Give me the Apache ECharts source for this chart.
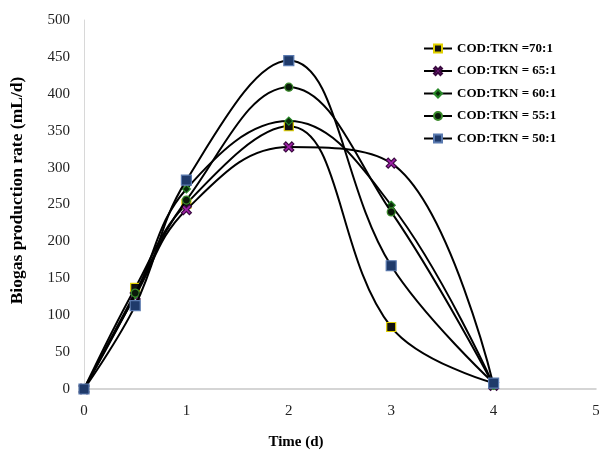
<!DOCTYPE html>
<html>
<head>
<meta charset="utf-8">
<script src="https://cdn.jsdelivr.net/npm/echarts@6/dist/echarts.min.js"></script>
<style>
html, body { margin: 0; padding: 0; background: #fff; }
#chart { width: 599px; height: 450px; }
</style>
</head>
<body>
<div id="chart"></div>
<script>
var times = [0, 0.5, 1, 2, 3, 4];
var seriesNames = ['COD:TKN =70:1', 'COD:TKN = 65:1', 'COD:TKN = 60:1', 'COD:TKN = 55:1', 'COD:TKN = 50:1'];
var cod70 = [0, 137, 251, 356, 84, 8];
var cod65 = [0, 126, 243, 328, 306, 5];
var cod60 = [0, 128, 271, 363, 249, 5];
var cod55 = [0, 130, 256, 409, 240, 5];
var cod50 = [0, 113, 283, 445, 167, 8];
var yTicks = [0, 50, 100, 150, 200, 250, 300, 350, 400, 450, 500];
var xTicks = [0, 1, 2, 3, 4, 5];

var 叉 = 'path://M0,2 L2,0 L5,3 L8,0 L10,2 L7,5 L10,8 L8,10 L5,7 L2,10 L0,8 L3,5 Z';

// 每条曲线的标记样式
var 标记 = [
    { symbol: 'rect', size: 9, color: '#111', border: '#e0d000' },
    { symbol: 叉, size: 10, color: '#a020a8', border: '#3a0a40' },
    { symbol: 'diamond', size: 8, color: '#0a2a0a', border: '#2a8a2a' },
    { symbol: 'circle', size: 8, color: '#0a1a0a', border: '#3a8a2a' },
    { symbol: 'rect', size: 10, color: '#1f3a6a', border: '#5a7ab0' }
];

function 配对(vals) {
    var out = [];
    for (var i = 0; i < times.length; i++) {
        out.push([times[i], vals[i]]);
    }
    return out;
}

var allVals = [cod70, cod65, cod60, cod55, cod50];
var series = [];
for (var k = 0; k < allVals.length; k++) {
    series.push({
        name: seriesNames[k],
        type: 'line',
        data: 配对(allVals[k]),
        smooth: 0.4,
        symbol: 标记[k].symbol,
        symbolSize: 标记[k].size,
        showAllSymbol: true,
        lineStyle: { color: '#000', width: 2 },
        itemStyle: { color: 标记[k].color, borderColor: 标记[k].border, borderWidth: 1.2 },
        z: 2 + k
    });
}

var myChart = echarts.init(document.getElementById('chart'));
var option = {
    animation: false,
    grid: { left: 84, right: 3, top: 20, bottom: 61, outerBoundsMode: 'none', containLabel: false },
    legend: {
        orient: 'vertical',
        left: 418,
        top: 37,
        itemGap: 9.5,
        itemWidth: 28,
        itemHeight: 10,
        data: seriesNames,
        textStyle: { fontFamily: 'Liberation Serif', fontWeight: 'bold', fontSize: 13, color: '#000' }
    },
    xAxis: {
        type: 'value',
        min: 0,
        max: 5,
        interval: 1,
        name: 'Time (d)',
        nameLocation: 'middle',
        nameGap: 46,
        nameTextStyle: { fontFamily: 'Liberation Serif', fontWeight: 'bold', fontSize: 15, color: '#000', padding: [0, 88, 0, 0] },
        axisLine: { show: true, lineStyle: { color: '#c8c8c8', width: 1.5 } },
        axisTick: { show: false },
        splitLine: { show: false },
        axisLabel: {
            fontFamily: 'Liberation Serif', fontSize: 15, color: '#222', margin: 15,
            formatter: function (v) { return xTicks.indexOf(v) >= 0 ? String(v) : ''; }
        }
    },
    yAxis: {
        type: 'value',
        min: 0,
        max: 500,
        interval: 50,
        name: 'Biogas production rate (mL/d)',
        nameLocation: 'middle',
        nameGap: 58,
        nameTextStyle: { fontFamily: 'Liberation Serif', fontWeight: 'bold', fontSize: 17.5, color: '#000', padding: [0, 0, 0, 28] },
        axisLine: { show: true, lineStyle: { color: '#d8d8d8', width: 1 } },
        axisTick: { show: false },
        splitLine: { show: false },
        axisLabel: {
            fontFamily: 'Liberation Serif', fontSize: 15, color: '#222', margin: 14,
            formatter: function (v) { return yTicks.indexOf(v) >= 0 ? String(v) : ''; }
        }
    },
    series: series
};
myChart.setOption(option);
</script>
</body>
</html>
